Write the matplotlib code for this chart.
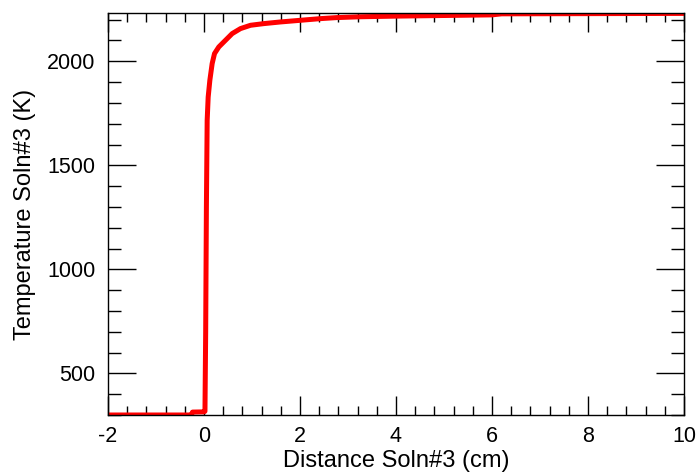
import matplotlib
matplotlib.use("Agg")
import matplotlib.pyplot as plt
from matplotlib.ticker import MultipleLocator

distance_cm = [-2.0, -1.0, -0.26, -0.24, 0.0, 0.02, 0.035, 0.05, 0.066, 0.087, 0.122, 0.17, 0.219,
               0.309, 0.448, 0.587, 0.76, 0.969, 1.247, 1.594, 2.01, 2.43, 2.77, 3.26, 4.0, 5.0,
               6.0, 6.2, 8.0, 10.0]
temperature_K = [300, 300, 300, 314, 315, 318, 700, 1300, 1716, 1828, 1909, 1989, 2037,
                 2069, 2101, 2133, 2157, 2173, 2181, 2189, 2197, 2205, 2210, 2214, 2217, 2220,
                 2223, 2228, 2229, 2230]

plt.rcParams['font.family'] = ['Liberation Sans', 'DejaVu Sans']
plt.rcParams['axes.unicode_minus'] = False

fig = plt.figure(figsize=(6.97, 4.73), dpi=100)
ax = fig.add_axes([108/697, 58/473, 576/697, 402/473])
ax.plot(distance_cm, temperature_K, color='#ff0000', lw=3.6, solid_joinstyle='round')
ax.set_xlim(-2, 10)
ax.set_ylim(300, 2232)
ax.xaxis.set_major_locator(MultipleLocator(2))
ax.xaxis.set_minor_locator(MultipleLocator(0.4))
ax.yaxis.set_minor_locator(MultipleLocator(100))
ax.set_yticks([500, 1000, 1500, 2000])
ax.tick_params(axis='x', which='major', direction='in', length=13.5, width=1, top=True, labelsize=15.5, pad=8)
ax.tick_params(axis='x', which='minor', direction='in', length=6.5, width=1, top=True)
ax.tick_params(axis='y', which='major', direction='in', length=20, width=1, right=True, labelsize=15.5, pad=9)
ax.tick_params(axis='y', which='minor', direction='in', length=9.5, width=1, right=True)
for s in ax.spines.values():
    s.set_linewidth(1)
ax.set_xlabel('Distance Soln#3 (cm)', fontsize=17, labelpad=2)
ax.set_ylabel('Temperature Soln#3 (K)', fontsize=17, labelpad=8)
fig.savefig('out.png', dpi=100)
